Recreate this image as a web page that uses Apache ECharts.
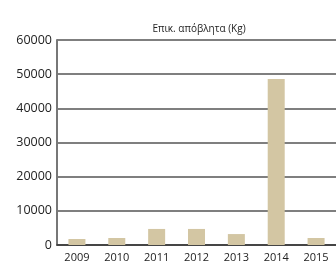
<!DOCTYPE html>
<html>
<head>
<meta charset="utf-8">
<script src="https://cdn.jsdelivr.net/npm/echarts@6/dist/echarts.min.js"></script>
<style>
    html, body { margin: 0; padding: 0; background: #fff; }
    #chart { width: 336px; height: 272px; }
</style>
</head>
<body>
<div id="chart"></div>
<script>
    const years = ['2009', '2010', '2011', '2012', '2013', '2014', '2015'];
    const waste = [1750, 2050, 4700, 4700, 3200, 48600, 2050];
    const yMin = 0;
    const yMax = 60000;
    const yStep = 10000;

    let myChart = echarts.init(document.getElementById('chart'));
    let option = {
        animation: false,
        textStyle: {fontFamily: 'Open Sans'},
        title: {
            text: 'Επικ. απόβλητα (Kg)',
            left: 194,
            top: 19,
            textAlign: 'center',
            textStyle: {fontSize: 10, fontWeight: 'normal', color: '#222'}
        },
        grid: {left: 57, right: -8, top: 40, bottom: 27},
        xAxis: {
            type: 'category',
            data: years,
            axisLine: {lineStyle: {color: '#333', width: 1.5}},
            axisTick: {inside: true, length: 5, lineStyle: {color: '#333'}},
            axisLabel: {fontSize: 11, color: '#222', margin: 7}
        },
        yAxis: {
            type: 'value',
            min: yMin,
            max: yMax,
            interval: yStep,
            axisLine: {show: true, lineStyle: {color: '#777', width: 2}},
            axisTick: {show: false},
            axisLabel: {fontSize: 12.5, color: '#222', margin: 5, formatter: v => String(v)},
            splitLine: {lineStyle: {color: '#555', width: 1.5}}
        },
        series: [{
            type: 'bar',
            data: waste,
            barWidth: 17,
            itemStyle: {color: '#d3c6a3'}
        }]
    };
    myChart.setOption(option);
</script>
</body>
</html>
